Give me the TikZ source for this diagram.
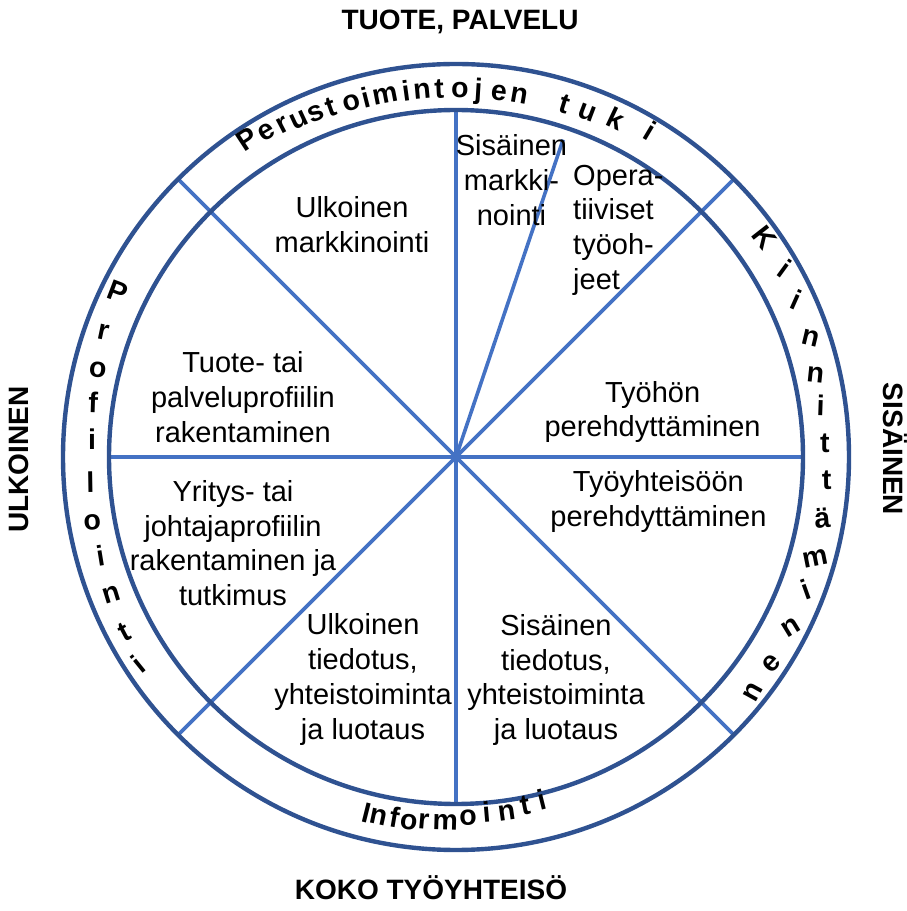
\documentclass[tikz,border=0pt]{standalone}
\usepackage{fontspec}
\setmainfont{Liberation Sans}
\usetikzlibrary{calc}
\definecolor{ringc}{RGB}{47,82,145}
\definecolor{spokec}{RGB}{68,114,196}
\begin{document}
\begin{tikzpicture}[x=1pt,y=1pt,
  ringline/.style={draw=ringc, line width=4.4pt},
  spoke/.style={draw=spokec, line width=3.6pt},
  sector/.style={font=\fontsize{29}{34.7}\selectfont, align=center, inner sep=0pt, text=black},
  ringletter/.style={font=\fontsize{28.5}{28.5}\selectfont\bfseries, inner sep=0pt, text height=0.52em, text depth=0pt, anchor=center},
  sidelabel/.style={font=\fontsize{28}{28}\selectfont\bfseries, inner sep=0pt, text height=0.72em, text depth=0pt}]
\useasboundingbox (0,0) rectangle (906,911);
\coordinate (c) at (456,454);
% spokes
\foreach \a/\r/\n in {90/347/n, 0/347/e, 180/347/w, 270/347/s, 45/393/ne, 135/393/nw, 225/393/sw, 315/393/se, 71.35/335/x}{
  \coordinate (sp\n) at ($(c)+(\a:\r)$);
  \draw[spoke] (c) -- (sp\n);
}
% circles
\draw[ringline] (c) circle[radius=347];
\draw[ringline] (c) circle[radius=393];
% ring texts
\foreach \ch/\a/\r/\rot [count=\i] in {P/123.3/373/33.3, e/120.3/371/30.3, r/117.5/369/27.5, u/115.0/367/25, s/112.2/366/22.2, t/109.6/365/19.6, o/106.5/364/16.5, i/104/363/14, m/101/363/11, i/97.8/362/7.8, n/95.3/362/5.3, t/92.6/362/2.6, o/89.4/362/-0.6, j/86.5/362/-3.5, e/83.3/362/-6.7, n/80.0/362/-10, t/72.9/363/-17.1, u/69.2/364/-20.8, k/64.7/367/-25.3, i/59.2/372/-30.8}{
  \node[ringletter, rotate=\rot] (top\i) at ($(c)+(\a:\r)$) {\ch};
}
\foreach \ch/\a/\r/\rot [count=\i] in {K/35.4/371/-52, i/29.3/372/-36, i/24.0/369/-24, n/17.9/372/-13.4, n/12.1/367/-6, i/6.9/367/-2, t/1.1/369/0, t/-4.6/372/0.9, ä/-10.5/373/4.6, m/-16.4/376/11.2, i/-21.7/379/19.6, n/-27.4/380/31.3, e/-33.4/382/46.5, n/-38.3/384/61}{
  \node[ringletter, rotate=\rot] (rgt\i) at ($(c)+(\a:\r)$) {\ch};
}
\foreach \ch/\a/\r/\rot [count=\i] in {P/155.0/376/-20.8, r/161.2/373/-11.8, o/167.1/368/-5.5, f/172.6/366/-1.8, i/178.4/364/0, l/185.2/367/0.9, o/190.9/370/4, i/196.7/370/9.3, n/202.6/372/17, t/208.9/375/27.8, i/214.2/379/39}{
  \node[ringletter, rotate=\rot] (lft\i) at ($(c)+(\a:\r)$) {\ch};
}
\foreach \ch/\a/\r/\rot [count=\i] in {I/-104.1/374/-14.1, n/-102.2/373/-12.2, f/-99.7/373/-9.7, o/-97.4/373/-7.4, r/-95.1/371/-5.1, m/-91.7/370/-1.7, o/-88.1/366/1.9, i/-85.1/364/4.9, n/-81.9/364/8.1, t/-78.7/362/11.3, i/-76.0/361/14}{
  \node[ringletter, rotate=\rot] (bot\i) at ($(c)+(\a:\r)$) {\ch};
}
% sector texts
\node[sector] (um) at (352,686.5) {Ulkoinen\\markkinointi};
\node[sector] (sm) at (511.5,731) {Sisäinen\\markki-\\nointi};
\node[sector, align=left, anchor=west] (op) at (573,681) {Opera-\\tiiviset\\työoh-\\jeet};
\node[sector] (th) at (652.6,499) {Työhön\\perehdyttäminen};
\node[sector] (ty) at (658.4,409.5) {Työyhteisöön\\perehdyttäminen};
\node[sector] (st) at (556,231) {Sisäinen\\tiedotus,\\yhteistoiminta\\ja luotaus};
\node[sector] (ut) at (363,231.5) {Ulkoinen\\tiedotus,\\yhteistoiminta\\ja luotaus};
\node[sector] (yj) at (233,368) {Yritys- tai\\johtajaprofiilin\\rakentaminen ja\\tutkimus};
\node[sector] (tp) at (243,514) {Tuote- tai\\palveluprofiilin\\rakentaminen};
% side labels
\node[sidelabel] (ltop) at (460,885) {TUOTE, PALVELU};
\node[sidelabel] (lbot) at (431,15) {KOKO TYÖYHTEISÖ};
\node[sidelabel, rotate=90] (lleft) at (25,451.5) {ULKOINEN};
\node[sidelabel, rotate=-90] (lright) at (887,462) {SISÄINEN};
\end{tikzpicture}
\end{document}
